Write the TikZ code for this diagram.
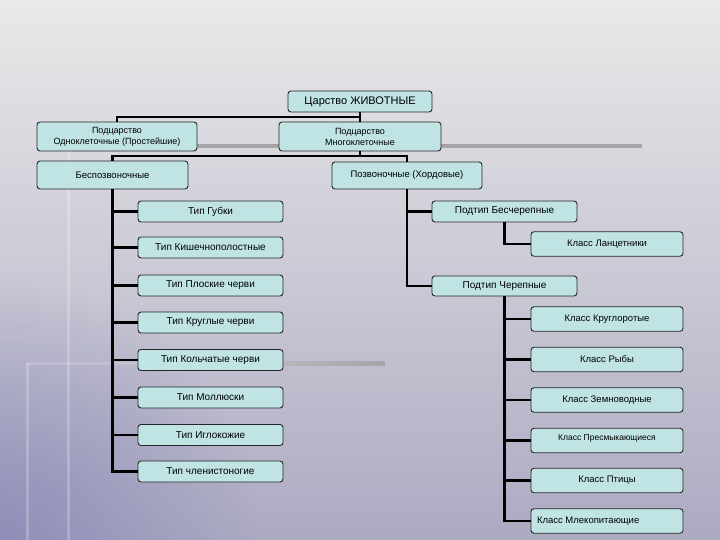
\documentclass[tikz,border=0pt]{standalone}
\usepackage{fontspec}
\setmainfont{Liberation Sans}
\usetikzlibrary{fadings}
\definecolor{boxfill}{RGB}{192,228,228}
\definecolor{bgtop}{RGB}{233,233,233}
\definecolor{bgmid}{RGB}{204,203,211}
\definecolor{bgbot}{RGB}{172,170,194}
\definecolor{bluish}{RGB}{130,130,180}
\definecolor{bargray}{RGB}{165,165,168}
\tikzfading[name=cornerfade, inner color=transparent!0, outer color=transparent!100]
\begin{document}
\begin{tikzpicture}[x=1pt,y=-1pt,
  box/.style={draw=black!85, line width=0.9pt, rounded corners=3pt, fill=boxfill,
    inner sep=0pt, align=center, font=\fontsize{10}{12}\selectfont},
  tipbox/.style={box, minimum width=145pt, minimum height=21pt},
  podbox/.style={box, minimum width=145pt, minimum height=21pt},
  klbox/.style={box, minimum width=152pt, minimum height=24.5pt, font=\fontsize{9.5}{11}\selectfont},
  conn/.style={line width=2.3pt, black},
  decoline/.style={line width=3pt, white, opacity=0.22}]
\useasboundingbox (0,0) rectangle (720,540);
% background
\shade[top color=bgtop, middle color=bgmid, bottom color=bgbot] (0,0) rectangle (720,540);
\fill[bluish, path fading=cornerfade, fill opacity=0.7] (0,540) circle (260);
% decorations
\fill[bargray] (150,144) rectangle (642,148);
\shade[left color=bgmid!80!bargray, right color=bargray] (200,361) rectangle (385,365);
\draw[decoline] (68,148) -- (68,540);
\draw[decoline] (27,363) -- (27,540);
\draw[decoline, opacity=0.15] (27,363) -- (200,363);

% top levels
\node[box, minimum width=144pt, minimum height=21pt, font=\fontsize{11}{13}\selectfont] (zar) at (360,101.5) {Царство ЖИВОТНЫЕ};
\node[box, minimum width=160pt, minimum height=29pt, font=\fontsize{9}{11}\selectfont] (odn) at (117,136.5) {Подцарство\\Одноклеточные (Простейшие)};
\node[box, minimum width=162pt, minimum height=29pt, font=\fontsize{9}{11}\selectfont] (mno) at (360,136.5) {Подцарство\\Многоклеточные};
\node[box, minimum width=151pt, minimum height=28pt, font=\fontsize{9.5}{11}\selectfont] (bes) at (112.5,175) {Беспозвоночные};
\node[box, minimum width=150pt, minimum height=27pt, font=\fontsize{9.5}{11}\selectfont] (poz) at (407,175.5) {Позвоночные (Хордовые)};

% left column
\node[tipbox] (t1) at (210.5,211.5) {Тип Губки};
\node[tipbox] (t2) at (210.5,247.5) {Тип Кишечнополостные};
\node[tipbox] (t3) at (210.5,285.5) {Тип Плоские черви};
\node[tipbox] (t4) at (210.5,322.5) {Тип Круглые черви};
\node[tipbox] (t5) at (210.5,360) {Тип Кольчатые черви};
\node[tipbox] (t6) at (210.5,397.5) {Тип Моллюски};
\node[tipbox] (t7) at (210.5,435) {Тип Иглокожие};
\node[tipbox] (t8) at (210.5,471.5) {Тип членистоногие};

% right column
\node[podbox] (p1) at (504.5,211.5) {Подтип Бесчерепные};
\node[podbox, minimum height=20pt] (p2) at (504.5,286) {Подтип Черепные};
\node[klbox] (k1) at (607,244) {Класс Ланцетники};
\node[klbox] (k2) at (607,319) {Класс Круглоротые};
\node[klbox] (k3) at (607,359.5) {Класс Рыбы};
\node[klbox] (k4) at (607,400) {\raisebox{-1.5pt}{Класс Земноводные}};
\node[klbox, font=\fontsize{8.5}{10}\selectfont] (k5) at (607,440.5) {\raisebox{5pt}{Класс Пресмыкающиеся}};
\node[klbox] (k6) at (607,480.5) {\raisebox{-3pt}{Класс Птицы}};
\node[klbox] (k7) at (607,521) {\raisebox{-1.5pt}{\makebox[140pt][l]{Класс Млекопитающие}}};

% connectors
\coordinate (j1) at (360,117);
\coordinate (j2) at (360,156);
\draw[conn] (zar.south) -- (mno.north);
\draw[conn] (j1) -| (odn.north);
\draw[conn] (mno.south) -- (j2);
\draw[conn] (j2) -| (bes.north);
\draw[conn] (j2) -| (poz.north);
\foreach \t in {t1,t2,t3,t4,t5,t6,t7,t8}
  \draw[conn] (bes.south) |- (\t.west);
\draw[conn] (poz.south) |- (p1.west);
\draw[conn] (poz.south) |- (p2.west);
\draw[conn] (p1.south) |- (k1.west);
\foreach \k in {k2,k3,k4,k5,k6,k7}
  \draw[conn] (p2.south) |- (\k.west);
\end{tikzpicture}
\end{document}
